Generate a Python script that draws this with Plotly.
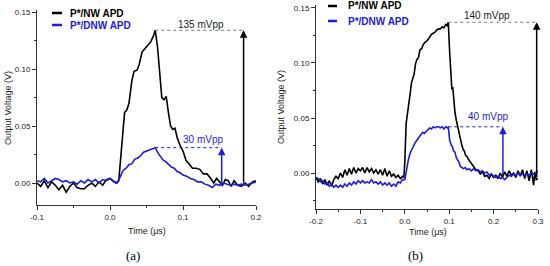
import plotly.graph_objects as go

# ---------------- data: panel (a) ----------------
t_a_nw = [-0.100, -0.095, -0.090, -0.085, -0.080, -0.075, -0.070, -0.065, -0.060, -0.055,
          -0.050, -0.045, -0.040, -0.035, -0.030, -0.025, -0.020, -0.015, -0.010, -0.005,
          0.000, 0.005, 0.008, 0.012, 0.017, 0.020, 0.023, 0.026, 0.030, 0.033,
          0.037, 0.040, 0.044, 0.048, 0.052, 0.056, 0.060, 0.062, 0.065, 0.068,
          0.071, 0.074, 0.077, 0.080, 0.083, 0.086, 0.089, 0.092, 0.096, 0.100,
          0.104, 0.108, 0.113, 0.118, 0.123, 0.128, 0.133, 0.138, 0.142, 0.146,
          0.150, 0.154, 0.158, 0.162, 0.166, 0.170, 0.175, 0.180, 0.185, 0.190,
          0.195, 0.200]
v_a_nw = [0.000, -0.003, 0.002, -0.004, 0.001, -0.002, -0.006, -0.002, -0.008, -0.003,
          0.000, -0.004, -0.005, -0.005, -0.002, 0.000, -0.003, 0.001, -0.002, 0.003,
          0.004, 0.001, 0.000, 0.002, 0.040, 0.062, 0.064, 0.070, 0.090, 0.098,
          0.099, 0.104, 0.115, 0.118, 0.121, 0.124, 0.130, 0.134, 0.120, 0.095,
          0.075, 0.073, 0.076, 0.062, 0.050, 0.047, 0.048, 0.040, 0.033, 0.028,
          0.020, 0.017, 0.013, 0.013, 0.012, 0.008, 0.008, 0.004, 0.000, 0.004,
          0.001, -0.002, 0.003, 0.002, -0.003, 0.002, -0.002, -0.003, 0.000, -0.003,
          0.001, 0.002]

t_a_dnw = [-0.100, -0.095, -0.090, -0.085, -0.080, -0.075, -0.070, -0.065, -0.060, -0.055,
           -0.050, -0.045, -0.040, -0.035, -0.030, -0.025, -0.020, -0.015, -0.010, -0.005,
           0.000, 0.005, 0.010, 0.014, 0.018, 0.022, 0.026, 0.030, 0.034, 0.038,
           0.042, 0.046, 0.050, 0.054, 0.058, 0.062, 0.066, 0.070, 0.073, 0.076,
           0.080, 0.084, 0.088, 0.092, 0.096, 0.100, 0.105, 0.110, 0.115, 0.120,
           0.125, 0.130, 0.135, 0.140, 0.145, 0.150, 0.155, 0.160, 0.165, 0.170,
           0.175, 0.180, 0.185, 0.190, 0.195, 0.200]
v_a_dnw = [0.002, 0.001, 0.004, 0.000, 0.002, 0.004, 0.003, 0.001, 0.002, 0.000,
           0.001, -0.001, 0.002, 0.000, 0.003, 0.001, 0.003, 0.000, 0.003, 0.002,
           0.004, 0.001, 0.000, 0.005, 0.011, 0.013, 0.016, 0.017, 0.021, 0.022,
           0.024, 0.027, 0.028, 0.029, 0.030, 0.031, 0.026, 0.023, 0.020, 0.019,
           0.016, 0.014, 0.013, 0.010, 0.009, 0.007, 0.006, 0.004, 0.003, 0.001,
           0.001, -0.001, -0.002, -0.004, -0.001, -0.002, 0.000, -0.001, -0.002, -0.001,
           -0.002, -0.001, -0.002, -0.001, 0.000, 0.001]

# ---------------- data: panel (b) ----------------
t_b_nw = [-0.200, -0.195, -0.190, -0.185, -0.180, -0.175, -0.170, -0.165, -0.160, -0.155,
          -0.150, -0.145, -0.140, -0.135, -0.130, -0.125, -0.120, -0.115, -0.110, -0.105,
          -0.100, -0.095, -0.090, -0.085, -0.080, -0.075, -0.070, -0.065, -0.060, -0.055,
          -0.050, -0.045, -0.040, -0.035, -0.030, -0.025, -0.020, -0.015, -0.010, -0.005,
          -0.002, 0.000, 0.003, 0.006, 0.009, 0.012, 0.015, 0.018, 0.021, 0.024,
          0.027, 0.031, 0.034, 0.038, 0.042, 0.046, 0.050, 0.055, 0.060, 0.064,
          0.068, 0.072, 0.076, 0.080, 0.084, 0.088, 0.092, 0.095, 0.098, 0.101,
          0.104, 0.106, 0.108, 0.110, 0.113, 0.116, 0.119, 0.122, 0.125, 0.128,
          0.131, 0.134, 0.137, 0.140, 0.144, 0.148, 0.152, 0.156, 0.160, 0.165,
          0.170, 0.175, 0.180, 0.185, 0.190, 0.195, 0.200, 0.205, 0.210, 0.215,
          0.220, 0.225, 0.230, 0.235, 0.240, 0.245, 0.250, 0.255, 0.260, 0.265,
          0.270, 0.275, 0.280, 0.285, 0.290, 0.293, 0.296, 0.300]
v_b_nw = [-0.004, -0.008, -0.005, -0.010, -0.006, -0.011, -0.007, -0.012, -0.006, -0.003,
          -0.005, 0.000, -0.004, 0.003, -0.002, 0.004, -0.001, 0.005, 0.000, 0.004,
          0.002, 0.005, 0.000, 0.005, 0.001, 0.004, 0.000, 0.003, -0.001, 0.003,
          -0.002, 0.004, -0.003, 0.002, -0.003, -0.001, -0.004, -0.002, -0.005, -0.003,
          -0.004, 0.010, 0.045, 0.053, 0.060, 0.072, 0.082, 0.087, 0.090, 0.099,
          0.103, 0.105, 0.112, 0.113, 0.117, 0.119, 0.120, 0.123, 0.126, 0.127,
          0.128, 0.130, 0.131, 0.131, 0.133, 0.132, 0.135, 0.134, 0.137, 0.110,
          0.085, 0.076, 0.078, 0.068, 0.055, 0.048, 0.042, 0.037, 0.030, 0.026,
          0.022, 0.020, 0.016, 0.015, 0.012, 0.010, 0.007, 0.006, 0.003, 0.002,
          -0.001, 0.001, -0.003, -0.002, -0.005, -0.001, -0.004, -0.002, -0.005, 0.000,
          -0.004, 0.001, -0.003, 0.002, -0.002, 0.000, -0.004, 0.002, -0.003, 0.003,
          -0.005, 0.002, -0.007, 0.003, -0.011, 0.001, -0.006, -0.005]

t_b_dnw = [-0.200, -0.195, -0.190, -0.185, -0.180, -0.175, -0.170, -0.165, -0.160, -0.155,
           -0.150, -0.145, -0.140, -0.135, -0.130, -0.125, -0.120, -0.115, -0.110, -0.105,
           -0.100, -0.095, -0.090, -0.085, -0.080, -0.075, -0.070, -0.065, -0.060, -0.055,
           -0.050, -0.045, -0.040, -0.035, -0.030, -0.025, -0.020, -0.015, -0.010, -0.005,
           0.000, 0.004, 0.008, 0.012, 0.016, 0.020, 0.024, 0.028, 0.032, 0.036,
           0.040, 0.044, 0.048, 0.052, 0.056, 0.060, 0.064, 0.068, 0.072, 0.076,
           0.080, 0.084, 0.088, 0.092, 0.096, 0.098, 0.101, 0.104, 0.107, 0.110,
           0.113, 0.116, 0.119, 0.122, 0.125, 0.128, 0.132, 0.136, 0.140, 0.145,
           0.150, 0.155, 0.160, 0.165, 0.170, 0.175, 0.180, 0.185, 0.190, 0.195,
           0.200, 0.205, 0.210, 0.215, 0.220, 0.225, 0.230, 0.235, 0.240, 0.245,
           0.250, 0.255, 0.260, 0.265, 0.270, 0.275, 0.280, 0.285, 0.290, 0.295,
           0.300]
v_b_dnw = [-0.004, -0.005, -0.008, -0.007, -0.010, -0.009, -0.012, -0.010, -0.013, -0.011,
           -0.013, -0.011, -0.013, -0.010, -0.012, -0.009, -0.011, -0.008, -0.010, -0.007,
           -0.009, -0.007, -0.009, -0.008, -0.009, -0.006, -0.009, -0.008, -0.010, -0.008,
           -0.011, -0.009, -0.011, -0.009, -0.012, -0.010, -0.012, -0.008, -0.009, -0.006,
           -0.006, 0.005, 0.012, 0.018, 0.022, 0.025, 0.028, 0.030, 0.033, 0.035,
           0.037, 0.036, 0.038, 0.039, 0.041, 0.040, 0.042, 0.041, 0.042, 0.042,
           0.041, 0.042, 0.040, 0.042, 0.041, 0.042, 0.030, 0.026, 0.024, 0.020,
           0.019, 0.014, 0.012, 0.010, 0.006, 0.005, 0.004, 0.005, 0.003, 0.004,
           0.002, 0.004, 0.002, 0.003, 0.001, 0.002, 0.000, 0.001, -0.002, -0.001,
           -0.003, -0.004, -0.003, -0.005, -0.004, -0.006, -0.004, -0.002, -0.003, -0.001,
           -0.002, 0.000, -0.002, -0.001, -0.002, -0.001, -0.002, 0.000, -0.001, 0.000,
           0.002]

# peak-to-peak markers: [x of arrow, baseline, peak, x where peak occurs]
pp_a_nw = [0.183, -0.001, 0.134, 0.062]
pp_a_dnw = [0.153, -0.001, 0.031, 0.062]
pp_b_nw = [0.297, -0.005, 0.137, 0.098]
pp_b_dnw = [0.221, -0.003, 0.042, 0.098]
pp_labels = ["135 mVpp", "30 mVpp", "140 mVpp", "40 mVpp"]
series_names = ["P*/NW APD", "P*/DNW APD"]
panel_labels = ["(a)", "(b)"]

BLACK = "#000000"
BLUE = "#1a1af5"
AXC = "#333333"

fig = go.Figure()

def add_panel(xa, ya, t_nw, v_nw, t_dnw, v_dnw, pp_nw, pp_dnw):
    fig.add_trace(go.Scatter(x=t_nw, y=v_nw, mode="lines", line=dict(color=BLACK, width=1.6),
                             xaxis=xa, yaxis=ya, showlegend=False, name=series_names[0]))
    fig.add_trace(go.Scatter(x=t_dnw, y=v_dnw, mode="lines", line=dict(color=BLUE, width=1.6),
                             xaxis=xa, yaxis=ya, showlegend=False, name=series_names[1]))
    fig.add_trace(go.Scatter(x=[pp_nw[3], pp_nw[0]], y=[pp_nw[2], pp_nw[2]], mode="lines",
                             line=dict(color="#777777", width=1, dash="dot"),
                             xaxis=xa, yaxis=ya, showlegend=False, hoverinfo="skip"))
    fig.add_trace(go.Scatter(x=[pp_dnw[3], pp_dnw[0]], y=[pp_dnw[2], pp_dnw[2]], mode="lines",
                             line=dict(color=BLUE, width=1, dash="dot"),
                             xaxis=xa, yaxis=ya, showlegend=False, hoverinfo="skip"))
    xr = "x" if xa == "x" else "x2"
    yr = "y" if ya == "y" else "y2"
    for pp, col in ((pp_nw, BLACK), (pp_dnw, BLUE)):
        fig.add_annotation(x=pp[0], y=pp[2], ax=pp[0], ay=pp[1], xref=xr, yref=yr,
                           axref=xr, ayref=yr, text="", showarrow=True, arrowhead=2,
                           arrowsize=1, arrowwidth=1.5, arrowcolor=col)

add_panel("x", "y", t_a_nw, v_a_nw, t_a_dnw, v_a_dnw, pp_a_nw, pp_a_dnw)
add_panel("x2", "y2", t_b_nw, v_b_nw, t_b_dnw, v_b_dnw, pp_b_nw, pp_b_dnw)

lab_font = dict(family="Liberation Sans, Arial", size=10)
CM = dict(xanchor="center", yanchor="middle", showarrow=False)
fig.add_annotation(x=0.124, y=0.139, xref="x", yref="y", text=pp_labels[0],
                   font=dict(color="#222222", **lab_font), **CM)
fig.add_annotation(x=0.128, y=0.038, xref="x", yref="y", text=pp_labels[1],
                   font=dict(color=BLUE, **lab_font), **CM)
fig.add_annotation(x=0.185, y=0.1436, xref="x2", yref="y2", text=pp_labels[2],
                   font=dict(color="#222222", **lab_font), **CM)
fig.add_annotation(x=0.187, y=0.051, xref="x2", yref="y2", text=pp_labels[3],
                   font=dict(color=BLUE, **lab_font), **CM)

W, H = 550, 266
def px(x):
    return x / W
def py(y):
    return 1 - y / H

leg_font = dict(family="Liberation Sans, Arial", size=10)
for (lx0, lx1, tx, ys) in ((52, 62, 68, (13, 25)), (328, 337, 346, (6, 21))):
    for name, col, yy in ((series_names[0], BLACK, ys[0]), (series_names[1], BLUE, ys[1])):
        fig.add_shape(type="line", xref="paper", yref="paper", x0=px(lx0), x1=px(lx1),
                      y0=py(yy), y1=py(yy), line=dict(color=col, width=2.5))
        fig.add_annotation(x=px(tx), y=py(yy), xref="paper", yref="paper", xanchor="left",
                           yanchor="middle", text="<b>" + name + "</b>", showarrow=False,
                           font=dict(color=col, **leg_font))

ttl_font = dict(family="Liberation Sans, Arial", size=9, color="#222222")
fig.add_annotation(x=px(147), y=py(231), xref="paper", yref="paper", text="Time (μs)",
                   font=ttl_font, **CM)
fig.add_annotation(x=px(428), y=py(232), xref="paper", yref="paper", text="Time (μs)",
                   font=ttl_font, **CM)
fig.add_annotation(x=px(8), y=py(108), xref="paper", yref="paper", text="Output Voltage (V)",
                   textangle=-90, font=ttl_font, **CM)
fig.add_annotation(x=px(281), y=py(107), xref="paper", yref="paper", text="Output Voltage (V)",
                   textangle=-90, font=ttl_font, **CM)
pl_font = dict(family="Liberation Serif, Times New Roman", size=13, color="#000000")
fig.add_annotation(x=px(133), y=py(255), xref="paper", yref="paper", text=panel_labels[0],
                   font=pl_font, **CM)
fig.add_annotation(x=px(415), y=py(255), xref="paper", yref="paper", text=panel_labels[1],
                   font=pl_font, **CM)

tick_font = dict(family="Liberation Sans, Arial", size=8, color="#222222")
ax_common = dict(showline=True, linecolor=AXC, linewidth=1, ticks="outside", ticklen=4,
                 tickcolor=AXC, showgrid=False, zeroline=False, tickfont=tick_font,
                 mirror=False, automargin=False)

fig.update_layout(
    width=W, height=H, margin=dict(l=0, r=0, t=0, b=0, pad=0, autoexpand=False),
    paper_bgcolor="white", plot_bgcolor="white", showlegend=False,
    xaxis=dict(domain=[px(37), px(256)], range=[-0.1, 0.2], anchor="y",
               tickvals=[-0.1, 0.0, 0.1, 0.2], ticktext=["-0.1", "0.0", "0.1", "0.2"],
               minor=dict(dtick=0.05, tick0=0, ticks="outside", ticklen=2, tickcolor=AXC),
               **ax_common),
    yaxis=dict(domain=[py(205), py(10)], range=[-0.0193, 0.1518], anchor="x",
               tickvals=[0.0, 0.05, 0.10, 0.15], ticktext=["0.00", "0.05", "0.10", "0.15"],
               minor=dict(dtick=0.025, tick0=0, ticks="outside", ticklen=2, tickcolor=AXC),
               **ax_common),
    xaxis2=dict(domain=[px(316), px(538)], range=[-0.2, 0.3], anchor="y2",
                tickvals=[-0.2, -0.1, 0.0, 0.1, 0.2, 0.3],
                ticktext=["-0.2", "-0.1", "0.0", "0.1", "0.2", "0.3"],
                minor=dict(dtick=0.05, tick0=0, ticks="outside", ticklen=2, tickcolor=AXC),
                **ax_common),
    yaxis2=dict(domain=[py(209), py(5)], range=[-0.0327, 0.1527], anchor="x2",
                tickvals=[0.0, 0.05, 0.10, 0.15], ticktext=["0.00", "0.05", "0.10", "0.15"],
                minor=dict(dtick=0.025, tick0=0, ticks="outside", ticklen=2, tickcolor=AXC),
                **ax_common),
)

fig.write_html("out.html", config={"displayModeBar": False},
               post_script="document.body.style.margin='0px';document.body.style.padding='0px';")
